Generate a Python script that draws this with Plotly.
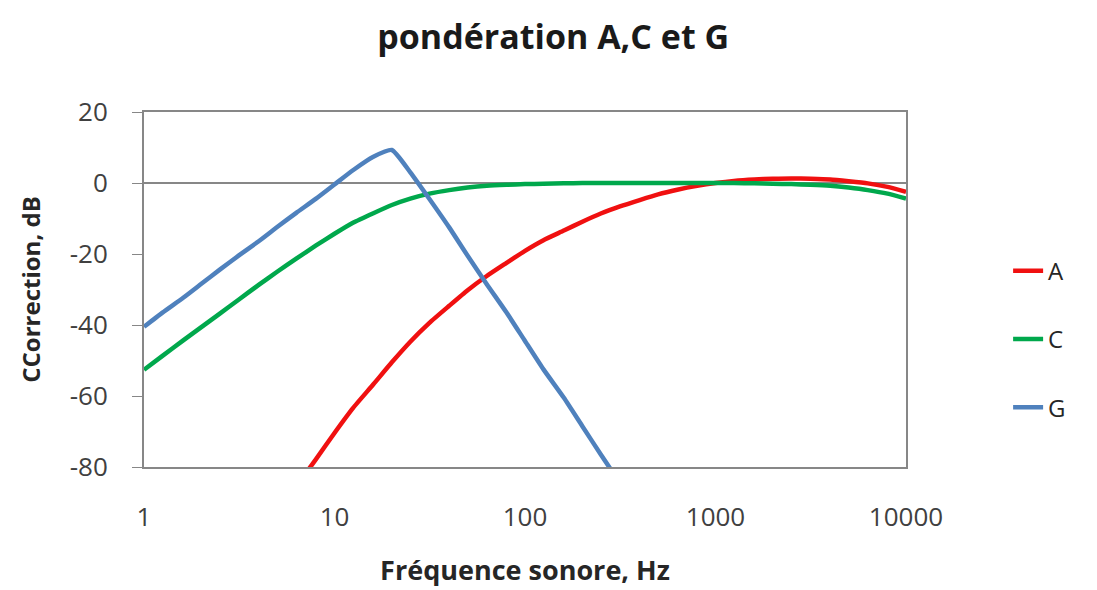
import plotly.graph_objects as go

# Third-octave frequencies (Hz) and weighting values (dB)
freq_a = [6.3, 8, 10, 12.5, 16, 20, 25, 31.5, 40, 50, 63, 80, 100, 125, 160, 200, 250, 315,
          400, 500, 630, 800, 1000, 1250, 1600, 2000, 2500, 3150, 4000, 5000, 6300, 8000, 10000]
a_vals = [-85.4, -77.8, -70.4, -63.4, -56.7, -50.5, -44.7, -39.4, -34.6, -30.2, -26.2, -22.5,
          -19.1, -16.1, -13.4, -10.9, -8.6, -6.6, -4.8, -3.2, -1.9, -0.8, 0.0, 0.6, 1.0, 1.2,
          1.3, 1.2, 1.0, 0.5, -0.1, -1.1, -2.5]

freq_c = [1, 1.25, 1.6, 2, 2.5, 3.15, 4, 5, 6.3, 8, 10, 12.5, 16, 20, 25, 31.5, 40, 50, 63, 80,
          100, 125, 160, 200, 250, 315, 400, 500, 630, 800, 1000, 1250, 1600, 2000, 2500, 3150,
          4000, 5000, 6300, 8000, 10000]
c_vals = [-52.6, -48.7, -44.4, -40.6, -36.8, -32.8, -28.7, -25.0, -21.3, -17.6, -14.3, -11.2,
          -8.5, -6.2, -4.4, -3.0, -2.0, -1.3, -0.8, -0.5, -0.3, -0.2, -0.1, 0.0, 0.0, 0.0, 0.0,
          0.0, 0.0, 0.0, 0.0, 0.0, -0.1, -0.2, -0.3, -0.5, -0.8, -1.3, -2.0, -3.0, -4.4]

freq_g = [1, 1.25, 1.6, 2, 2.5, 3.15, 4, 5, 6.3, 8, 10, 12.5, 16, 20, 25, 31.5, 40, 50, 63, 80,
          100, 125, 160, 200, 250, 315]
g_vals = [-40.5, -36.5, -32.4, -28.4, -24.4, -20.4, -16.4, -12.4, -8.4, -4.4, -0.4, 3.6, 7.4, 9.3,
          3.0, -4.5, -12.5, -20.5, -28.5, -36.5, -44.5, -52.5, -60.5, -68.5, -76.5, -84.5]

x_ticks = [1, 10, 100, 1000, 10000]
x_tick_labels = ["1", "10", "100", "1000", "10000"]
y_ticks = [-80, -60, -40, -20, 0, 20]
y_tick_labels = ["-80", "-60", "-40", "-20", "0", "20"]

FONT = "'Open Sans', Lato, sans-serif"

fig = go.Figure()
fig.add_trace(go.Scatter(x=freq_a, y=a_vals, name="A", mode="lines", legendgroup="A",
                         line=dict(color="#F01010", width=4.5, shape="spline", smoothing=0.5)))
fig.add_trace(go.Scatter(x=freq_c, y=c_vals, name="C", mode="lines", legendgroup="C",
                         line=dict(color="#00A84C", width=4.5, shape="spline", smoothing=0.5)))
fig.add_trace(go.Scatter(x=freq_g, y=g_vals, name="G", mode="lines", legendgroup="G",
                         line=dict(color="#4F81BD", width=4.5, shape="spline", smoothing=0.5)))

fig.update_layout(
    width=1097, height=590,
    margin=dict(l=136, r=199, t=104, b=131),
    paper_bgcolor="white", plot_bgcolor="white",
    font=dict(family=FONT, size=22, color="#404040"),
    title=dict(text="<b>pondération A,C et G</b>", x=0.497, xanchor="center",
               y=0.951, yanchor="middle",
               font=dict(family=FONT, size=34, color="#1a1a1a")),
    legend=dict(x=1.134, xanchor="left", y=0.36, yanchor="middle",
                font=dict(family=FONT, size=24, color="#262626"),
                traceorder="grouped", tracegroupgap=34, bgcolor="rgba(0,0,0,0)"),
    xaxis=dict(type="log", range=[0, 4], tickvals=x_ticks, ticktext=x_tick_labels,
               showgrid=False, zeroline=False, showline=True, mirror=True,
               linecolor="#878787", linewidth=2, ticks="", ticklabelstandoff=26,
               tickfont=dict(family=FONT, size=26, color="#404040"),
               title=dict(text="<b>Fréquence sonore, Hz</b>", standoff=28,
                          font=dict(family=FONT, size=27, color="#262626"))),
    yaxis=dict(range=[-80, 20], tickvals=y_ticks, ticktext=y_tick_labels, showgrid=False,
               zeroline=True, zerolinecolor="#878787", zerolinewidth=1.5,
               showline=True, mirror=True, linecolor="#878787", linewidth=2,
               ticks="outside", ticklen=10, tickcolor="#878787", ticklabelstandoff=19,
               tickfont=dict(family=FONT, size=26, color="#404040"),
               title=dict(text="<b>CCorrection, dB</b>", standoff=22,
                          font=dict(family=FONT, size=24, color="#262626"))),
)

fig.write_html("out.html")
